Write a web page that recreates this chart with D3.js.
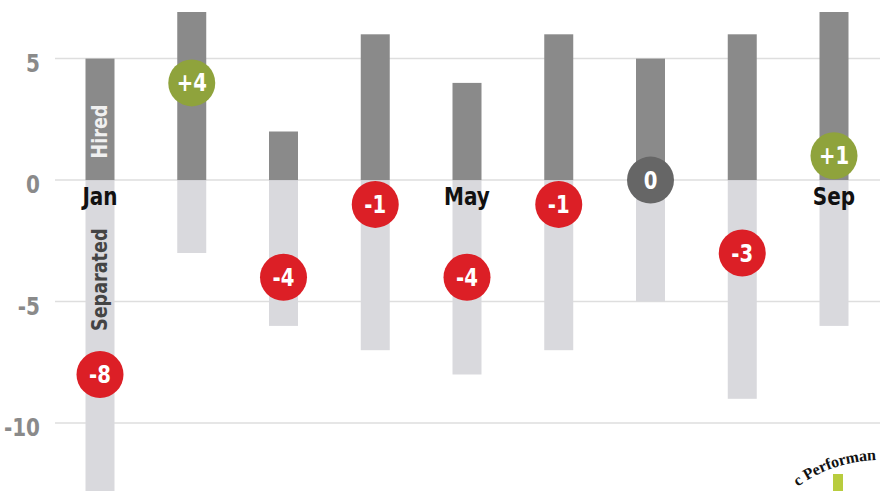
<!DOCTYPE html>
<html>
<head>
<meta charset="utf-8">
<script src="https://cdn.jsdelivr.net/npm/d3@7"></script>
<style>
  body { margin: 0; background: #fff; }
  svg { display: block; }
</style>
</head>
<body>
<div id="app"></div>
<script>
// chart data
const months = ['Jan', 'Feb', 'Mar', 'Apr', 'May', 'Jun', 'Jul', 'Aug', 'Sep']
const hired = [5, 7, 2, 6, 4, 6, 5, 6, 7]
const separated = [-13, -3, -6, -7, -8, -7, -5, -9, -6]
const yTicks = [5, 0, -5, -10]
const labelledMonths = ['Jan', 'May', 'Sep']

const net = months.map((m, i) => hired[i] + separated[i])

const W = 880, H = 491
const font = "'DejaVu Sans', sans-serif"
const squeeze = 0.8 // narrow the glyphs to look like a condensed face

const svg = d3.select('#app').append('svg')
  .attr('width', W).attr('height', H)

// scales
const x = d3.scalePoint().domain(months).range([100, 834])
const y = d3.scaleLinear().domain([7, -13]).range([10, 496])
const barW = 29

// clip plot area
svg.append('clipPath').attr('id', 'plot')
  .append('rect').attr('x', 0).attr('y', 12).attr('width', W).attr('height', H - 12)

// gridlines
svg.append('g').selectAll('line').data(yTicks).join('line')
  .attr('x1', 55).attr('x2', W)
  .attr('y1', d => y(d)).attr('y2', d => y(d))
  .attr('stroke', '#dedede').attr('stroke-width', 1.5)

// y tick labels
svg.append('g').selectAll('text').data(yTicks).join('text')
  .attr('transform', d => `translate(40,${y(d) + 13}) scale(${squeeze},1)`)
  .attr('text-anchor', 'end')
  .attr('font-family', font).attr('font-weight', 'bold').attr('font-size', 25)
  .attr('fill', '#8a8a8a')
  .text(d => d)

const bars = svg.append('g').attr('clip-path', 'url(#plot)')

// separated bars
bars.selectAll('rect.sep').data(months).join('rect')
  .attr('class', 'sep')
  .attr('x', d => x(d) - barW / 2)
  .attr('width', barW)
  .attr('y', y(0))
  .attr('height', (d, i) => y(separated[i]) - y(0))
  .attr('fill', '#d9d9dd')

// hired bars
bars.selectAll('rect.hir').data(months).join('rect')
  .attr('class', 'hir')
  .attr('x', d => x(d) - barW / 2)
  .attr('width', barW)
  .attr('y', (d, i) => y(hired[i]))
  .attr('height', (d, i) => y(0) - y(hired[i]))
  .attr('fill', '#8a8a8a')

// series labels inside the Jan bar
svg.append('text')
  .attr('transform', `translate(${x('Jan') + 7},${y(2)}) rotate(-90) scale(${squeeze},1)`)
  .attr('text-anchor', 'middle')
  .attr('font-family', font).attr('font-weight', 'bold').attr('font-size', 22)
  .attr('fill', '#f0f0f0')
  .text('Hired')

svg.append('text')
  .attr('transform', `translate(${x('Jan') + 7},${y(-4.1)}) rotate(-90) scale(${squeeze},1)`)
  .attr('text-anchor', 'middle')
  .attr('font-family', font).attr('font-weight', 'bold').attr('font-size', 22)
  .attr('fill', '#444')
  .text('Separated')

// month labels
svg.append('g').selectAll('text').data(labelledMonths).join('text')
  .attr('transform', d => `translate(${x(d)},${y(0) + 25}) scale(${squeeze},1)`)
  .attr('text-anchor', 'middle')
  .attr('font-family', font).attr('font-weight', 'bold').attr('font-size', 25)
  .attr('fill', '#111')
  .text(d => d)

// net change circles
const color = d => d > 0 ? '#8fa33c' : d < 0 ? '#dc1f26' : '#666666'
const dots = svg.append('g').selectAll('g').data(months).join('g')
  .attr('transform', (d, i) => `translate(${x(d)},${y(net[i])})`)

dots.append('circle')
  .attr('r', 23.5)
  .attr('fill', (d, i) => color(net[i]))

dots.append('text')
  .attr('transform', `translate(0,8.5) scale(0.82,1)`)
  .attr('text-anchor', 'middle')
  .attr('font-family', font).attr('font-weight', 'bold').attr('font-size', 24)
  .attr('fill', '#fff')
  .text((d, i) => net[i] > 0 ? '+' + net[i] : net[i])

// corner logo fragment
const logo = svg.append('g')
logo.append('path')
  .attr('id', 'arc')
  .attr('d', 'M 740 600 A 140 140 0 0 1 1020 600')
  .attr('fill', 'none')
logo.append('text')
  .attr('font-family', "'Liberation Serif', serif").attr('font-weight', 'bold').attr('font-size', 16)
  .attr('fill', '#111')
  .append('textPath').attr('href', '#arc').attr('startOffset', 132)
  .attr('textLength', 84).attr('lengthAdjust', 'spacing')
  .text('c Performan')
logo.append('rect')
  .attr('x', 833).attr('y', 474).attr('width', 10).attr('height', 17)
  .attr('fill', '#b8cc3e')
</script>
</body>
</html>
